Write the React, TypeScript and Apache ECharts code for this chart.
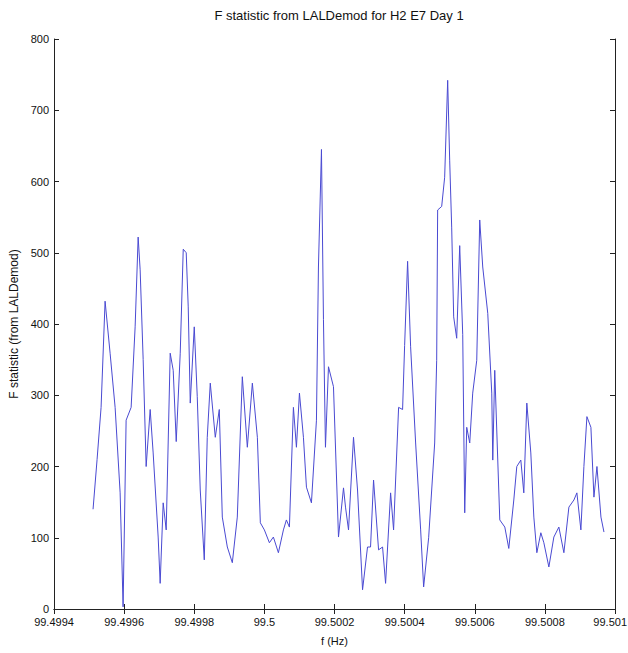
import React, { useEffect, useRef } from "react";
import * as echarts from "echarts";

// Frequency bins (Hz) and the F statistic at each bin
const freqHz: number[] = [
  99.4995114, 99.4995229, 99.4995343, 99.4995457, 99.49956, 99.4995743, 99.4995886, 99.4995971,
  99.4996057, 99.49962, 99.4996314, 99.49964, 99.4996457, 99.4996543, 99.4996628, 99.4996743,
  99.4996828, 99.4996971, 99.4997028, 99.4997114, 99.49972, 99.4997314, 99.49974, 99.4997486,
  99.49976, 99.4997686, 99.4997771, 99.4997828, 99.4997886, 99.4998, 99.4998086, 99.4998171,
  99.4998286, 99.4998371, 99.4998457, 99.49986, 99.4998714, 99.49988, 99.4998943, 99.4999086,
  99.4999228, 99.4999371, 99.4999514, 99.4999657, 99.49998, 99.4999885, 99.5, 99.5000143,
  99.5000257, 99.50004, 99.5000543, 99.5000628, 99.5000714, 99.5000828, 99.5000914, 99.5001,
  99.5001114, 99.50012, 99.5001342, 99.5001485, 99.5001542, 99.5001628, 99.5001685, 99.5001742,
  99.5001828, 99.5001971, 99.5002114, 99.5002257, 99.5002314, 99.50024, 99.5002542, 99.5002657,
  99.50028, 99.5002942, 99.5003028, 99.5003114, 99.5003257, 99.5003371, 99.5003457, 99.50036,
  99.5003685, 99.5003828, 99.5003942, 99.5004, 99.5004085, 99.5004171, 99.5004314, 99.5004457,
  99.5004542, 99.5004685, 99.5004857, 99.5004914, 99.5004942, 99.5005057, 99.5005142, 99.5005228,
  99.5005285, 99.5005342, 99.5005399, 99.5005485, 99.5005571, 99.5005657, 99.5005714, 99.5005771,
  99.5005857, 99.5005942, 99.5006057, 99.5006142, 99.5006228, 99.5006371, 99.5006485, 99.5006514,
  99.500657, 99.5006714, 99.5006857, 99.5006971, 99.5007114, 99.5007199, 99.5007314, 99.5007399,
  99.5007485, 99.5007599, 99.5007685, 99.5007771, 99.5007885, 99.5007971, 99.5008114, 99.5008256,
  99.5008399, 99.5008542, 99.5008685, 99.5008828, 99.5008913, 99.5009027, 99.5009113, 99.5009199,
  99.5009313, 99.5009399, 99.5009485, 99.5009599, 99.5009685,
];

const fStat: number[] = [
  140, 210, 283, 432, 359, 283, 163, 3,
  265, 283, 396, 522, 476, 350, 200, 280,
  219, 101, 36, 149, 111, 359, 335, 235,
  359, 505, 500, 424, 289, 396, 298, 167,
  69, 241, 317, 241, 280, 129, 87, 65,
  129, 326, 227, 317, 241, 121, 111, 93,
  101, 79, 111, 125, 115, 283, 227, 303,
  241, 171, 149, 265, 480, 645, 406, 227,
  340, 312, 101, 170, 143, 111, 241, 167,
  27, 87, 87, 181, 83, 87, 36, 163,
  111, 283, 280, 370, 488, 368, 233, 111,
  31, 100, 233, 349, 560, 565, 606, 742,
  630, 536, 410, 380, 510, 385, 135, 255,
  233, 303, 349, 546, 480, 415, 303, 209,
  335, 125, 115, 85, 153, 200, 209, 163,
  289, 219, 129, 79, 107, 93, 59, 101,
  115, 79, 143, 153, 163, 111, 200, 270,
  255, 157, 200, 129, 108,
];

const titleText = "F statistic from LALDemod for H2 E7 Day 1";
const xName = "f (Hz)";
const yName = "F statistic (from LALDemod)";
const xMin = 99.4994;
const xMax = 99.501;
const xStep = 0.0002;

const FONT = "'Liberation Sans', Arial, sans-serif";
const AXIS_COLOR = "#222";

export default function App() {
  const ref = useRef<HTMLDivElement>(null);

  useEffect(() => {
    if (!ref.current) return;
    const chart = echarts.init(ref.current, undefined, { renderer: "svg" });

    const fmtX = (v: number) => String(parseFloat(v.toFixed(4)));
    const boxAxisCommon = {
      axisLine: { show: true, lineStyle: { color: AXIS_COLOR, width: 1 } },
      axisTick: { show: true, inside: true, length: 5, lineStyle: { color: AXIS_COLOR } },
      splitLine: { show: false },
    };

    chart.setOption({
      animation: false,
      backgroundColor: "#fff",
      title: {
        text: titleText,
        left: 334,
        textAlign: "center",
        top: 4,
        textStyle: { fontFamily: FONT, fontSize: 13, fontWeight: "normal", color: "#111" },
      },
      grid: { left: 54, right: 13, top: 39, bottom: 44, outerBoundsMode: "none", containLabel: false },
      // the last tick label sits flush against the right edge of the canvas
      graphic: [
        {
          type: "text",
          right: 1,
          top: 616,
          style: { text: fmtX(xMax), font: `11px ${FONT}`, fill: "#111" },
        },
      ],
      xAxis: [
        {
          type: "value",
          min: xMin,
          max: xMax,
          interval: xStep,
          position: "bottom",
          name: xName,
          nameLocation: "middle",
          nameGap: 26,
          nameTextStyle: { fontFamily: FONT, fontSize: 11, color: "#111" },
          axisLabel: {
            formatter: fmtX,
            fontFamily: FONT,
            fontSize: 11,
            color: "#111",
            margin: 7,
            showMinLabel: true,
            showMaxLabel: false,
          },
          ...boxAxisCommon,
        },
        {
          type: "value",
          min: xMin,
          max: xMax,
          interval: xStep,
          position: "top",
          axisLabel: { show: false },
          ...boxAxisCommon,
        },
      ],
      yAxis: [
        {
          type: "value",
          min: 0,
          max: 800,
          interval: 100,
          position: "left",
          name: yName,
          nameLocation: "middle",
          nameGap: 28,
          nameTextStyle: { fontFamily: FONT, fontSize: 12, color: "#111" },
          axisLabel: { fontFamily: FONT, fontSize: 11, color: "#111", margin: 5 },
          ...boxAxisCommon,
        },
        {
          type: "value",
          min: 0,
          max: 800,
          interval: 100,
          position: "right",
          axisLabel: { show: false },
          ...boxAxisCommon,
        },
      ],
      series: [
        {
          type: "line",
          xAxisIndex: 0,
          yAxisIndex: 0,
          data: freqHz.map((f, i) => [f, fStat[i]]),
          showSymbol: false,
          symbol: "none",
          lineStyle: { color: "#4a4ad2", width: 1 },
        },
      ],
    });

    return () => chart.dispose();
  }, []);

  return (
    <div
      ref={ref}
      style={{ position: "fixed", left: 0, top: 0, width: 628, height: 653, background: "#fff" }}
    />
  );
}
